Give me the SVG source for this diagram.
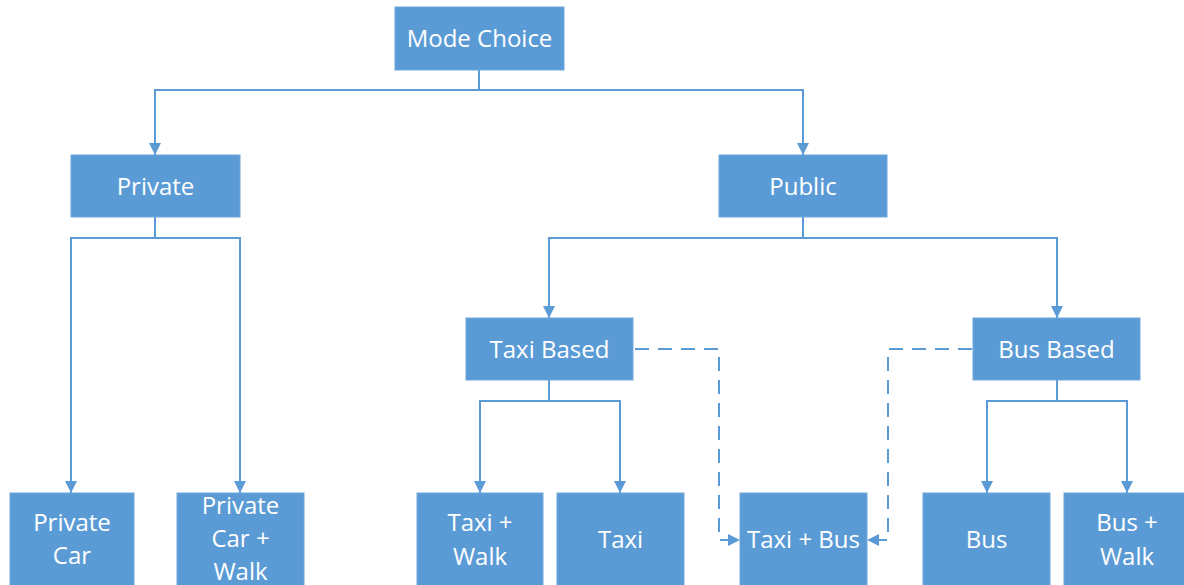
<svg xmlns="http://www.w3.org/2000/svg" width="1184" height="585" viewBox="0 0 1184 585">
<style>
.n rect{fill:#5B9BD5;stroke:#6FA8DC;stroke-width:1}
.n text{fill:#fff;font-family:"Open Sans","Liberation Sans",sans-serif;font-size:24px;text-anchor:middle}
.c path{fill:none;stroke:#5B9BD5;stroke-width:2}
.c .d{stroke-dasharray:14,9}
</style>
<defs>
<marker id="b" viewBox="0 0 10 10" refX="10" refY="5" markerWidth="12" markerHeight="12" markerUnits="userSpaceOnUse" orient="auto">
<path d="M0,0L10,5L0,10z" fill="#5B9BD5"/>
</marker>
</defs>
<g class="c">
<path d="M479,70V90H155V155" marker-end="url(#b)"/>
<path d="M479,90H803V155" marker-end="url(#b)"/>
<path d="M155,217V238H71V493" marker-end="url(#b)"/>
<path d="M155,238H240V493" marker-end="url(#b)"/>
<path d="M803,217V238H549V318" marker-end="url(#b)"/>
<path d="M803,238H1057V318" marker-end="url(#b)"/>
<path d="M549,380V401H480V493" marker-end="url(#b)"/>
<path d="M549,401H620V493" marker-end="url(#b)"/>
<path d="M1057,380V401H987V493" marker-end="url(#b)"/>
<path d="M1057,401H1127V493" marker-end="url(#b)"/>
<path class="d" d="M635,349H719V540H740" marker-end="url(#b)"/>
<path class="d" d="M972,349H888V540H867" marker-end="url(#b)"/>
</g>
<g id="mode-choice" class="n"><rect x="395" y="7" width="169" height="63"/><text x="479.5" y="47">Mode Choice</text></g>
<g id="private" class="n"><rect x="71" y="155" width="169" height="62"/><text x="155.5" y="195">Private</text></g>
<g id="public" class="n"><rect x="719" y="155" width="168" height="62"/><text x="803" y="195">Public</text></g>
<g id="taxi-based" class="n"><rect x="466" y="318" width="167" height="62"/><text x="549.5" y="358">Taxi Based</text></g>
<g id="bus-based" class="n"><rect x="973" y="318" width="167" height="62"/><text x="1056.5" y="358">Bus Based</text></g>
<g id="private-car" class="n"><rect x="10" y="493" width="124" height="95"/><text x="72" y="531">Private</text><text x="72" y="564">Car</text></g>
<g id="private-car-walk" class="n"><rect x="177" y="493" width="127" height="95"/><text x="240.5" y="514">Private</text><text x="240.5" y="547">Car +</text><text x="240.5" y="580">Walk</text></g>
<g id="taxi-walk" class="n"><rect x="417" y="493" width="126" height="95"/><text x="480" y="531">Taxi +</text><text x="480" y="565">Walk</text></g>
<g id="taxi" class="n"><rect x="557" y="493" width="127" height="95"/><text x="620.5" y="548">Taxi</text></g>
<g id="taxi-bus" class="n"><rect x="740" y="493" width="127" height="95"/><text x="803.5" y="548">Taxi + Bus</text></g>
<g id="bus" class="n"><rect x="923" y="493" width="127" height="95"/><text x="986.5" y="548">Bus</text></g>
<g id="bus-walk" class="n"><rect x="1064" y="493" width="125" height="95"/><text x="1127" y="531">Bus +</text><text x="1127" y="565">Walk</text></g>
</svg>
